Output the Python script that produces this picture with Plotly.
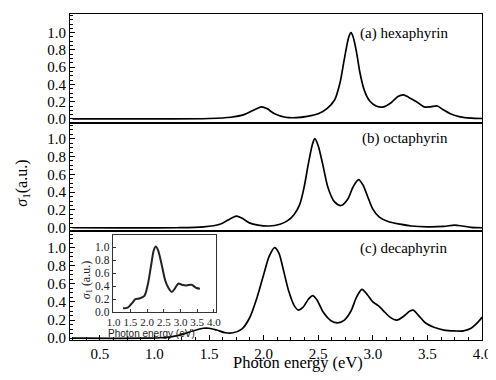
import plotly.graph_objects as go

# ---- data ----
energy_a = [0.25, 1.0, 1.5, 1.7, 1.82, 1.92, 1.98, 2.03, 2.1, 2.2, 2.3, 2.4, 2.5, 2.58, 2.65, 2.70,
            2.74, 2.78, 2.80, 2.82, 2.85, 2.88, 2.92, 2.97, 3.03, 3.10, 3.17, 3.23, 3.28, 3.33,
            3.40, 3.47, 3.53, 3.59, 3.64, 3.71, 3.80, 3.90, 4.0]
sigma_a = [0.0, 0.0, 0.005, 0.02, 0.05, 0.11, 0.14, 0.12, 0.06, 0.02, 0.015, 0.03, 0.06, 0.12, 0.22, 0.42,
           0.70, 0.95, 1.0, 0.95, 0.78, 0.55, 0.34, 0.21, 0.15, 0.14, 0.19, 0.26, 0.28, 0.25,
           0.20, 0.14, 0.14, 0.15, 0.11, 0.06, 0.025, 0.01, 0.005]

energy_b = [0.25, 1.2, 1.45, 1.6, 1.68, 1.75, 1.80, 1.87, 1.95, 2.05, 2.15, 2.22, 2.28, 2.33, 2.37,
            2.41, 2.45, 2.47, 2.50, 2.54, 2.59, 2.65, 2.71, 2.77, 2.82, 2.87, 2.91, 2.95, 3.00,
            3.06, 3.14, 3.25, 3.35, 3.5, 3.65, 3.75, 3.82, 3.9, 4.0]
sigma_b = [0.0, 0.0, 0.01, 0.04, 0.09, 0.13, 0.11, 0.055, 0.03, 0.02, 0.04, 0.08, 0.15, 0.26, 0.45,
           0.72, 0.95, 1.0, 0.92, 0.72, 0.45, 0.29, 0.25, 0.32, 0.46, 0.54, 0.48, 0.36, 0.21,
           0.12, 0.07, 0.04, 0.02, 0.01, 0.015, 0.03, 0.02, 0.005, 0.0]

energy_c = [0.25, 0.9, 1.05, 1.15, 1.25, 1.35, 1.45, 1.50, 1.57, 1.65, 1.72, 1.80, 1.87, 1.94, 2.00,
            2.05, 2.10, 2.14, 2.18, 2.23, 2.28, 2.32, 2.36, 2.41, 2.45, 2.49, 2.55, 2.62, 2.68,
            2.74, 2.80, 2.85, 2.90, 2.95, 3.00, 3.05, 3.10, 3.16, 3.22, 3.28, 3.34, 3.37, 3.42,
            3.48, 3.56, 3.65, 3.75, 3.83, 3.90, 3.95, 4.0]
sigma_c = [0.0, 0.0, 0.005, 0.015, 0.04, 0.08, 0.11, 0.11, 0.09, 0.06, 0.06, 0.10, 0.22, 0.45, 0.70,
           0.90, 1.0, 0.94, 0.76, 0.52, 0.36, 0.31, 0.34, 0.43, 0.47, 0.42, 0.28, 0.19, 0.17,
           0.20, 0.30, 0.45, 0.54, 0.48, 0.40, 0.36, 0.30, 0.23, 0.20, 0.24, 0.30, 0.31, 0.25,
           0.17, 0.12, 0.09, 0.08, 0.08, 0.11, 0.16, 0.23]

energy_inset = [1.28, 1.42, 1.57, 1.65, 1.77, 1.92, 2.02, 2.12, 2.20, 2.26, 2.33, 2.44, 2.54, 2.64,
                2.74, 2.84, 2.94, 3.04, 3.18, 3.33, 3.48, 3.58]
sigma_inset = [0.06, 0.07, 0.15, 0.20, 0.21, 0.25, 0.42, 0.72, 0.95, 1.01, 0.95, 0.72, 0.49, 0.37,
               0.31, 0.37, 0.44, 0.42, 0.41, 0.42, 0.37, 0.36]

panel_labels = ["(a) hexaphyrin", "(b) octaphyrin", "(c) decaphyrin"]
main_xticks = [0.5, 1.0, 1.5, 2.0, 2.5, 3.0, 3.5, 4.0]
y_ticks = [0.0, 0.2, 0.4, 0.6, 0.8, 1.0]
inset_xticks = [1.0, 1.5, 2.0, 2.5, 3.0, 3.5, 4.0]

SERIF = "Liberation Serif"
SANS = "Liberation Sans"

fig = go.Figure()
line = dict(color="black", width=1.7, shape="spline", smoothing=0.8)
fig.add_trace(go.Scatter(x=energy_c, y=sigma_c, mode="lines", line=line, xaxis="x", yaxis="y"))
fig.add_trace(go.Scatter(x=energy_b, y=sigma_b, mode="lines", line=line, xaxis="x2", yaxis="y2"))
fig.add_trace(go.Scatter(x=energy_a, y=sigma_a, mode="lines", line=line, xaxis="x3", yaxis="y3"))
fig.add_trace(go.Scatter(x=energy_inset, y=sigma_inset, mode="lines",
                         line=dict(color="#222", width=2, shape="spline", smoothing=0.8),
                         xaxis="x4", yaxis="y4"))

xr = [0.227, 4.0]
common_x = dict(range=xr, showline=True, mirror=True, linecolor="black", linewidth=1,
                showgrid=False, zeroline=False)
common_y = dict(showline=True, mirror=True, linecolor="black", linewidth=1, showgrid=False,
                zeroline=False, ticks="inside", ticklen=5, tickcolor="black",
                tickvals=y_ticks, ticktext=[f"{v:.1f}" for v in y_ticks],
                minor=dict(ticks="inside", ticklen=3, dtick=0.05, tick0=0, tickcolor="black"),
                tickfont=dict(family=SERIF, size=15, color="black"))

# the page body keeps its default 8px margin: the figure sits at (8, 8) and ends at the window edge
fig.update_layout(
    width=488, height=364,
    margin=dict(l=62, r=11, t=5, b=32),
    paper_bgcolor="white", plot_bgcolor="white",
    showlegend=False,
    font=dict(family=SERIF, color="black"),
    xaxis=dict(**common_x, anchor="y", domain=[0, 1], ticks="inside", ticklen=5, tickcolor="black",
               tickvals=main_xticks, ticktext=[f"{v:.1f}" for v in main_xticks],
               minor=dict(ticks="inside", ticklen=3, dtick=0.125, tick0=0, tickcolor="black"),
               tickfont=dict(family=SERIF, size=15, color="black")),
    xaxis2=dict(**common_x, anchor="y2", domain=[0, 1], matches="x", showticklabels=False),
    xaxis3=dict(**common_x, anchor="y3", domain=[0, 1], matches="x", showticklabels=False),
    yaxis=dict(**common_y, anchor="x", domain=[0, 1/3], range=[-0.02, 1.18]),
    yaxis2=dict(**common_y, anchor="x2", domain=[1/3, 2/3], range=[-0.04, 1.18]),
    yaxis3=dict(**common_y, anchor="x3", domain=[2/3, 1], range=[-0.043, 1.216]),
    xaxis4=dict(anchor="y4", domain=[0.1036, 0.3542], range=[0.97, 4.06], showline=True, mirror=True,
                linecolor="#333", linewidth=1, showgrid=False, zeroline=False,
                ticks="inside", ticklen=3, tickcolor="#333",
                tickvals=inset_xticks, ticktext=[f"{v:.1f}" for v in inset_xticks],
                tickfont=dict(family=SERIF, size=11, color="#222")),
    yaxis4=dict(anchor="x4", domain=[0.0856, 0.3211], range=[0, 1.18], showline=True, mirror=True,
                linecolor="#333", linewidth=1, showgrid=False, zeroline=False,
                ticks="inside", ticklen=3, tickcolor="#333",
                tickvals=y_ticks, ticktext=[f"{v:.1f}" for v in y_ticks],
                tickfont=dict(family=SERIF, size=11.5, color="#222")),
)

annotations = [
    dict(text=panel_labels[0], x=0.923, y=0.939, xanchor="right", yanchor="middle"),
    dict(text=panel_labels[1], x=0.923, y=0.618, xanchor="right", yanchor="middle"),
    dict(text=panel_labels[2], x=0.923, y=0.281, xanchor="right", yanchor="middle"),
]
for a in annotations:
    a.update(xref="paper", yref="paper", showarrow=False,
             font=dict(family=SERIF, size=15, color="black"))
    fig.add_annotation(**a)

fig.add_annotation(text="Photon energy (eV)", x=0.554, y=-0.0703, xref="paper", yref="paper",
                   xanchor="center", yanchor="middle", showarrow=False,
                   font=dict(family=SERIF, size=16.5, color="black"))
fig.add_annotation(text="<i>σ</i><sub>1</sub>(a.u.)", x=-0.116, y=0.48, xref="paper", yref="paper",
                   xanchor="center", yanchor="middle", showarrow=False, textangle=-90,
                   font=dict(family=SERIF, size=16, color="black"))
fig.add_annotation(text="Photon energy (eV)", x=0.198, y=0.02, xref="paper", yref="paper",
                   xanchor="center", yanchor="middle", showarrow=False,
                   font=dict(family=SANS, size=10, color="#222"))
fig.add_annotation(text="<i>σ</i><sub>1</sub> (a.u.)", x=0.041, y=0.183, xref="paper", yref="paper",
                   xanchor="center", yanchor="middle", showarrow=False, textangle=-90,
                   font=dict(family=SERIF, size=12, color="#222"))

fig.write_html("out.html")
